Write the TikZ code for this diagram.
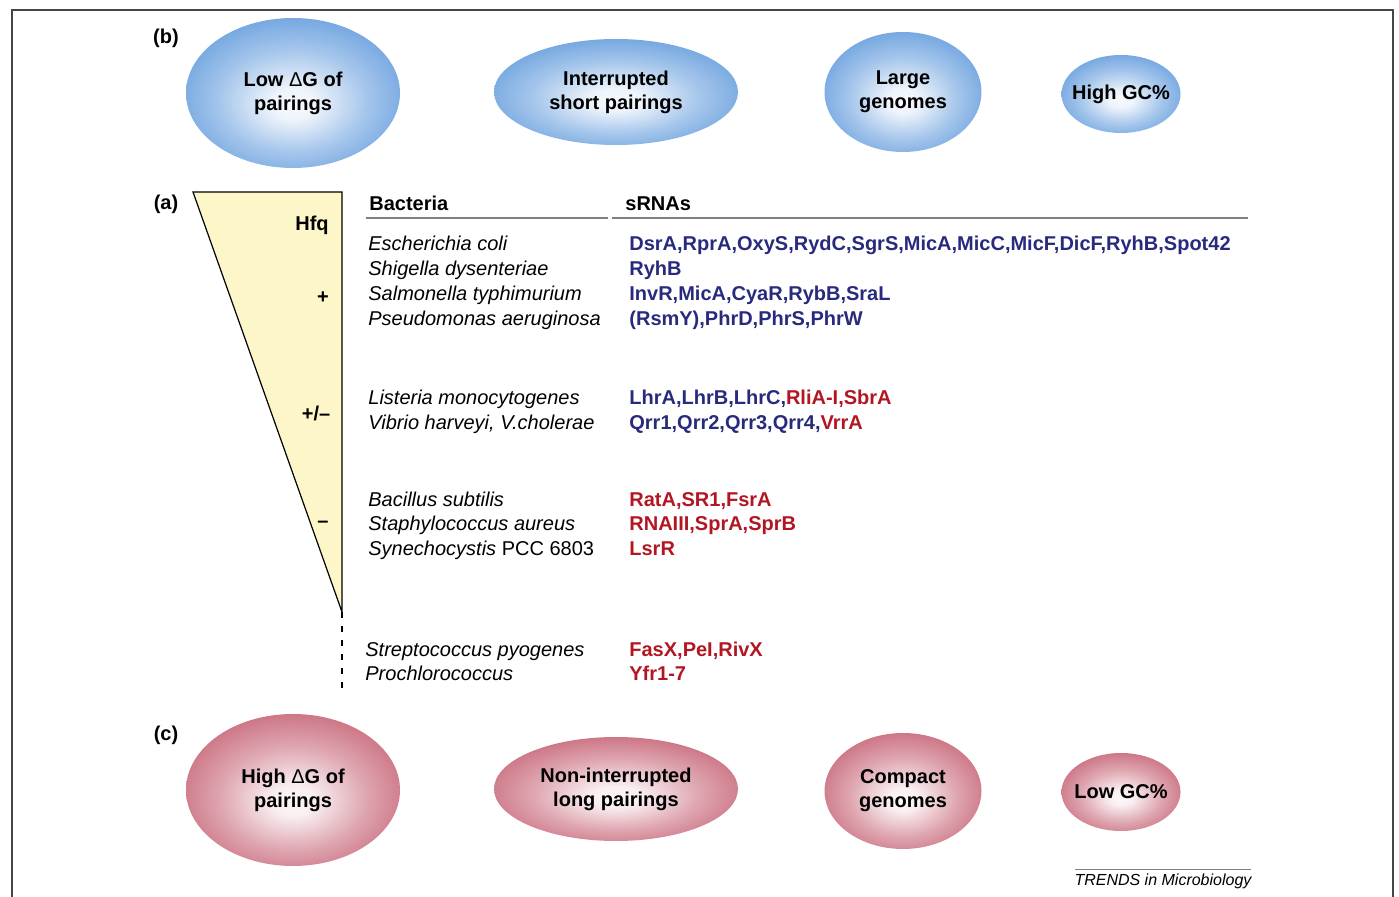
\documentclass[tikz,border=0pt]{standalone}
\usepackage{fontspec}
\setmainfont{Liberation Sans}
\usetikzlibrary{shapes.geometric}

\definecolor{srnablue}{RGB}{40,42,125}
\definecolor{srnared}{RGB}{178,22,34}
\definecolor{hfqyellow}{RGB}{253,246,200}
\definecolor{bubbleblue}{RGB}{118,168,225}
\definecolor{bubblepink}{RGB}{205,118,134}
\definecolor{framegray}{RGB}{70,70,70}

\pgfdeclareradialshading{blueball}{\pgfpoint{0bp}{-4bp}}{color(0bp)=(bubbleblue!6!white); color(5bp)=(bubbleblue!12!white); color(17bp)=(bubbleblue!65!white); color(27bp)=(bubbleblue); color(50bp)=(bubbleblue)}
\pgfdeclareradialshading{pinkball}{\pgfpoint{0bp}{-4bp}}{color(0bp)=(bubblepink!6!white); color(5bp)=(bubblepink!12!white); color(17bp)=(bubblepink!65!white); color(27bp)=(bubblepink); color(50bp)=(bubblepink)}

\begin{document}
\begin{tikzpicture}[x=0.5pt,y=-0.5pt]
  \tikzset{bubble/.style={ellipse,inner sep=-6pt,shade,shading=#1,align=center,font=\bfseries\fontsize{10}{12}\selectfont},
    panel/.style={inner sep=0pt,font=\bfseries\fontsize{10}{12}\selectfont},
    species/.style={anchor=base west,inner sep=0pt,font=\itshape\fontsize{10}{12}\selectfont},
    srna/.style={anchor=base west,inner sep=0pt,text=srnablue,font=\bfseries\fontsize{10}{12}\selectfont}}
  \useasboundingbox (0,0) rectangle (1399,897);

  % frame, open at the bottom
  \draw[framegray,line width=1pt] (12,897) -- (12,10) -- (1393,10) -- (1393,897);

  % (b) high Hfq dependence
  \node[panel] (panelb) at (166,38) {(b)};
  \node[bubble=blueball,minimum width=107pt,minimum height=75pt] (lowdg) at (293,93) {Low {\mdseries Δ}G of\\pairings};
  \node[bubble=blueball,minimum width=122pt,minimum height=53pt] (shortpair) at (616,92) {Interrupted\\short pairings};
  \node[bubble=blueball,minimum width=78.5pt,minimum height=60pt] (largegen) at (903,92) {Large\\genomes};
  \node[bubble=blueball,minimum width=59.5pt,minimum height=39pt] (highgc) at (1121,94) {High GC\%};

  % (a) Hfq wedge
  \node[panel] (panela) at (166,204) {(a)};
  \coordinate (hfqtop) at (193,192);
  \coordinate (hfqcorner) at (342,192);
  \coordinate (hfqtip) at (342,612);
  \coordinate (hfqend) at (342,690);
  \draw[fill=hfqyellow,line width=0.6pt] (hfqtop) -- (hfqcorner) -- (hfqtip) -- cycle;
  \draw[dash pattern=on 3pt off 4pt,line width=0.6pt] (hfqtip) -- (hfqend);
  \node[panel] (hfq) at (312,225) {Hfq};
  \node[panel] (plus) at (323,298) {+};
  \node[panel] (plusminus) at (316,413) {+/–};
  \node[panel] (minus) at (323,524) {–};

  % table heads
  \node[panel,anchor=base west] (bacteria) at (369,211) {Bacteria};
  \node[panel,anchor=base west] (srnas) at (625,211) {sRNAs};
  \draw[gray,line width=0.75pt] (366,218) -- (608,218);
  \draw[gray,line width=0.75pt] (612,218) -- (1248,218);

  % bacteria
  \node[species] (ecoli) at (368,251) {Escherichia coli};
  \node[species] (shigella) at (368,276) {Shigella dysenteriae};
  \node[species] (salmonella) at (368,301) {Salmonella typhimurium};
  \node[species] (pseudomonas) at (368,326) {Pseudomonas aeruginosa};
  \node[species] (listeria) at (368,405) {Listeria monocytogenes};
  \node[species] (vibrio) at (368,430) {Vibrio harveyi, V.cholerae};
  \node[species] (bacillus) at (368,507) {Bacillus subtilis};
  \node[species] (staph) at (368,531) {Staphylococcus aureus};
  \node[species] (synecho) at (368,556) {Synechocystis \upshape PCC 6803};
  \node[species] (strep) at (365,657) {Streptococcus pyogenes};
  \node[species] (prochloro) at (365,681) {Prochlorococcus};

  % sRNAs
  \node[srna] (ecolisrna) at (629,251) {DsrA,RprA,OxyS,RydC,SgrS,MicA,MicC,MicF,DicF,RyhB,Spot42};
  \node[srna] (shigellasrna) at (629,276) {RyhB};
  \node[srna] (salmonellasrna) at (629,301) {InvR,MicA,CyaR,RybB,SraL};
  \node[srna] (pseudomonassrna) at (629,326) {(RsmY),PhrD,PhrS,PhrW};
  \node[srna] (listeriasrna) at (629,405) {LhrA,LhrB,LhrC,\textcolor{srnared}{RliA-I,SbrA}};
  \node[srna] (vibriosrna) at (629,430) {Qrr1,Qrr2,Qrr3,Qrr4,\textcolor{srnared}{VrrA}};
  \node[srna,text=srnared] (bacillussrna) at (629,507) {RatA,SR1,FsrA};
  \node[srna,text=srnared] (staphsrna) at (629,531) {RNAIII,SprA,SprB};
  \node[srna,text=srnared] (synechosrna) at (629,556) {LsrR};
  \node[srna,text=srnared] (strepsrna) at (629,657) {FasX,PeI,RivX};
  \node[srna,text=srnared] (prochlorosrna) at (629,681) {Yfr1-7};

  % (c) low Hfq dependence
  \node[panel] (panelc) at (166,735) {(c)};
  \node[bubble=pinkball,minimum width=107pt,minimum height=76pt] (highdg) at (293,790) {High {\mdseries Δ}G of\\pairings};
  \node[bubble=pinkball,minimum width=122pt,minimum height=52pt] (longpair) at (616,789) {Non-interrupted\\long pairings};
  \node[bubble=pinkball,minimum width=78.5pt,minimum height=58pt] (compactgen) at (903,791) {Compact\\genomes};
  \node[bubble=pinkball,minimum width=59.5pt,minimum height=39pt] (lowgc) at (1121,792) {Low GC\%};

  % journal tag
  \draw[gray,line width=0.5pt] (1075,870) -- (1251,870);
  \node[inner sep=0pt,font=\itshape\fontsize{8}{10}\selectfont] (journal) at (1163,881) {TRENDS in Microbiology};
\end{tikzpicture}
\end{document}
